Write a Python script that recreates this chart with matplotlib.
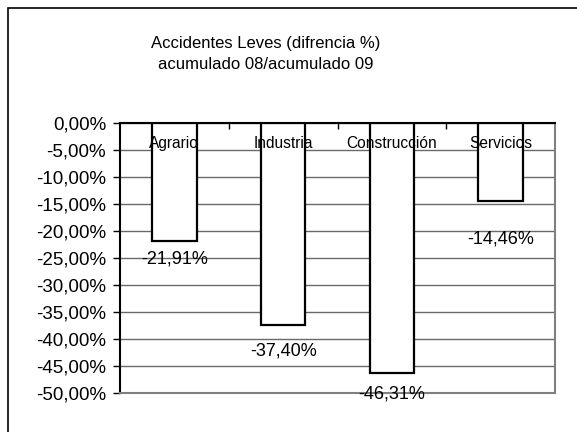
import numpy as np
import matplotlib
matplotlib.use('Agg')
import matplotlib.pyplot as plt
from matplotlib.patches import Rectangle
from matplotlib.ticker import FuncFormatter, FixedLocator

plt.rcParams['font.family'] = ['Liberation Sans', 'DejaVu Sans']

# data
sectores = ['Agrario', 'Industria', 'Construcción', 'Servicios']
diferencia = [-21.91, -37.40, -46.31, -14.46]
etiquetas = ['-21,91%', '-37,40%', '-46,31%', '-14,46%']

# label distance below each bar end (points), as placed in the original
desplaz = [6.5, 12.5, 9, 21]

fig = plt.figure(figsize=(5.77, 4.32), dpi=100)
ax = fig.add_axes([0.208, 0.0903, 0.754, 0.625])

# outer frame of the chart (left and top visible)
fig.add_artist(Rectangle((8 / 577, -0.2), 1.3, 1.2 - 8 / 432,
                         transform=fig.transFigure, fill=False,
                         edgecolor='black', linewidth=1.2))

x = np.arange(len(sectores))
ax.bar(x, diferencia, width=0.41, color='white', edgecolor='black',
       linewidth=1.6, zorder=3)

ax.set_xlim(-0.5, len(sectores) - 0.5)
ax.set_ylim(-50, 0)
ax.yaxis.set_major_locator(FixedLocator(np.arange(-50, 1, 5)))
ax.yaxis.set_major_formatter(FuncFormatter(lambda v, p: ('%.2f%%' % v).replace('.', ',')))
ax.grid(axis='y', color='#6a6a6a', linewidth=1.0, zorder=1)
ax.set_axisbelow(True)

ax.tick_params(axis='y', direction='out', length=5, width=1, labelsize=13.5, pad=5)
ax.xaxis.tick_top()
ax.set_xticks(x[:-1] + 0.5)
ax.set_xticklabels([])
ax.tick_params(axis='x', direction='in', length=4, width=1)

for side in ['right', 'bottom']:
    ax.spines[side].set_color('#808080')
    ax.spines[side].set_linewidth(1.5)
ax.spines['left'].set_linewidth(1.5)
ax.spines['top'].set_linewidth(1.5)
ax.spines['top'].set_zorder(4)

for xi, name in zip(x, sectores):
    ax.text(xi, -3.8, name, ha='center', va='center', fontsize=11.2, zorder=5)

for xi, v, lab, d in zip(x, diferencia, etiquetas, desplaz):
    ax.annotate(lab, (xi, v), xytext=(0, -d), textcoords='offset points',
                ha='center', va='top', fontsize=13, zorder=5)

fig.text(0.461, 0.900, 'Accidentes Leves (difrencia %)', ha='center',
         va='center', fontsize=12)
fig.text(0.461, 0.850, 'acumulado 08/acumulado 09', ha='center',
         va='center', fontsize=12)

fig.savefig('out.png', dpi=100)
